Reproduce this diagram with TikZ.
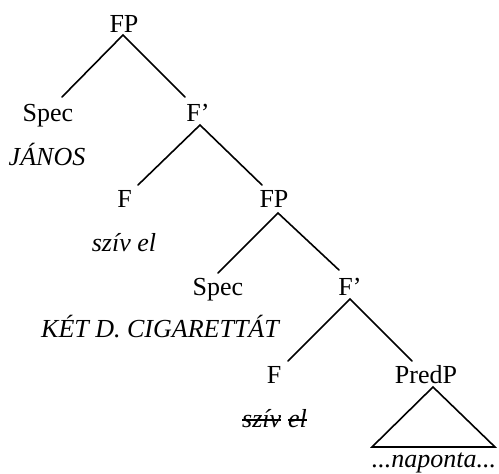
\documentclass[tikz,border=0pt]{standalone}
\usepackage{fontspec}
\setmainfont{Liberation Serif}
\begin{document}
\begin{tikzpicture}[x=1pt,y=-1pt,
  lbl/.style={anchor=base,inner sep=0pt,font=\fontsize{26}{31}\selectfont},
  ex/.style={lbl,font=\fontsize{26}{31}\selectfont\itshape},
  branch/.style={line width=1.6pt,line cap=round},
  strike/.style={line width=1.5pt}]
\useasboundingbox (0,0) rectangle (499,474);
% labels
\node[lbl] (fp1) at (124,32) {FP};
\node[lbl] (spec1) at (48,121) {Spec};
\node[lbl] (fb1) at (198,121) {F’};
\node[ex] (janos) at (47,165) {JÁNOS};
\node[lbl] (f1) at (124.5,207) {F};
\node[ex] (sziv1) at (124,251) {szív el};
\node[lbl] (fp2) at (274,207) {FP};
\node[lbl] (spec2) at (218,295) {Spec};
\node[lbl] (fb2) at (350,295) {F’};
\node[ex] (ket) at (160,337) {KÉT D. CIGARETTÁT};
\node[lbl] (f2) at (274,383) {F};
\node[lbl] (predp) at (426,383) {PredP};
\node[ex,anchor=base west] (sza) at (242,427) {szív};
\node[ex,anchor=base west] (szb) at ([xshift=6.5pt]sza.base east) {el};
\node[ex] (napo) at (434,467) {...naponta...};
\draw[strike] ([yshift=7pt]sza.base west) -- ([yshift=7pt]sza.base east);
\draw[strike] ([yshift=7pt]szb.base west) -- ([yshift=7pt]szb.base east);
% branch points
\coordinate (a0) at (123,35);
\coordinate (a1) at (62,97);
\coordinate (a2) at (185,97);
\coordinate (b0) at (200,125);
\coordinate (b1) at (138,185);
\coordinate (b2) at (262,185);
\coordinate (c0) at (278,213);
\coordinate (c1) at (218,273);
\coordinate (c2) at (339,270);
\coordinate (d0) at (350,299);
\coordinate (d1) at (288,361);
\coordinate (d2) at (412,361);
\coordinate (t0) at (433,387);
\coordinate (t1) at (372,447);
\coordinate (t2) at (495,447);
\draw[branch] (a1) -- (a0) -- (a2);
\draw[branch] (b1) -- (b0) -- (b2);
\draw[branch] (c1) -- (c0) -- (c2);
\draw[branch] (d1) -- (d0) -- (d2);
\draw[branch,line join=miter] (t0) -- (t1) -- (t2) -- cycle;
\end{tikzpicture}
\end{document}
